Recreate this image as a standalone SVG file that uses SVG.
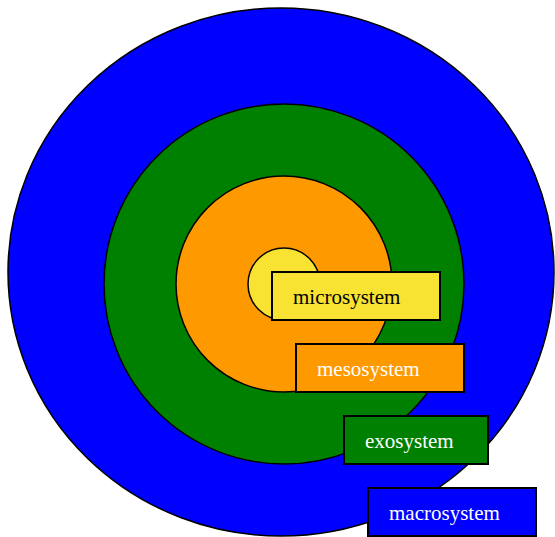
<svg xmlns="http://www.w3.org/2000/svg" width="555" height="537" viewBox="0 0 555 537">
<style>
.ring{stroke:#000;stroke-width:1.5}
.box{stroke:#000;stroke-width:2}
.lbl{font-family:"Liberation Serif","Times New Roman",serif;font-size:21px}
</style>
<rect width="555" height="537" fill="#fff"/>
<g id="macro-ring"><ellipse class="ring" cx="281" cy="272" rx="273" ry="264" fill="#0000ff"/></g>
<g id="exo-ring"><circle class="ring" cx="284" cy="284" r="180" fill="#008000"/></g>
<g id="meso-ring"><circle class="ring" cx="284" cy="284" r="108" fill="#ff9900"/></g>
<g id="micro-ring"><circle class="ring" cx="284" cy="284" r="36" fill="#f8e332"/></g>
<g id="connectors"></g>
<g id="microsystem"><rect class="box" x="272" y="272" width="168" height="48" fill="#f8e332"/><text class="lbl" x="293" y="304" fill="#000">microsystem</text></g>
<g id="mesosystem"><rect class="box" x="296" y="344" width="168" height="48" fill="#ff9900"/><text class="lbl" x="317" y="376" fill="#fff">mesosystem</text></g>
<g id="exosystem"><rect class="box" x="344" y="416" width="144" height="48" fill="#008000"/><text class="lbl" x="365" y="448" fill="#fff">exosystem</text></g>
<g id="macrosystem"><rect class="box" x="368" y="488" width="168" height="48" fill="#0000ff"/><text class="lbl" x="389" y="520" fill="#fff">macrosystem</text></g>
</svg>
